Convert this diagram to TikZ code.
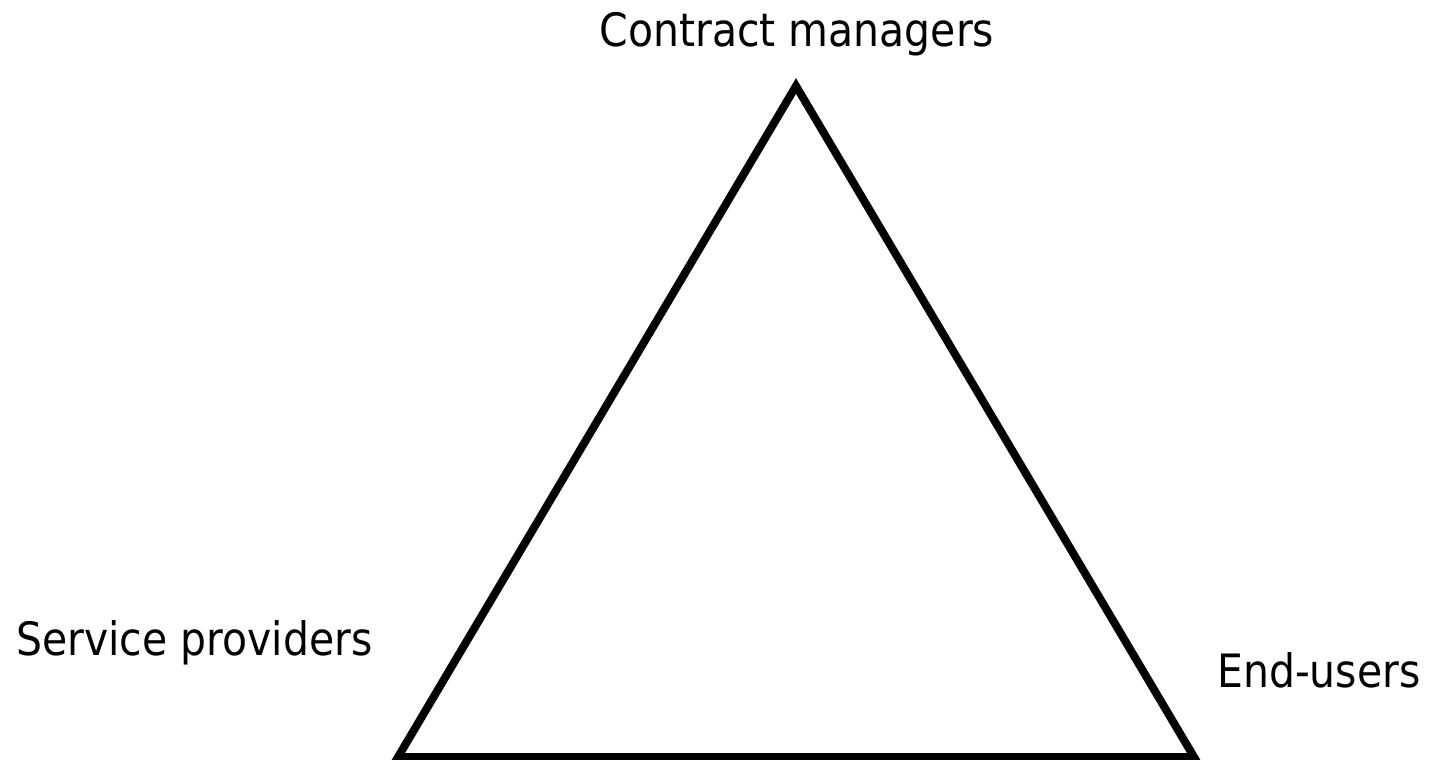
\documentclass[tikz,border=0pt]{standalone}
\usepackage{fontspec}
\setmainfont[FakeStretch=0.89]{DejaVu Sans}
\begin{document}
\begin{tikzpicture}[x=1pt,y=-1pt,
  lbl/.style={inner sep=0pt,font=\fontsize{46}{50}\selectfont},
  edge/.style={line width=8pt,line join=miter}]
\useasboundingbox (0,0) rectangle (1435,760);
\coordinate (top) at (796,86);
\coordinate (bl) at (398,757);
\coordinate (br) at (1194,757);
\draw[edge] (top) -- (bl) -- (br) -- cycle;
\node[lbl,anchor=base] (cm) at (797,47) {Contract managers};
\node[lbl,anchor=base west] (sp) at (16,655) {Service providers};
\node[lbl,anchor=base west] (eu) at (1217,687) {End-users};
\end{tikzpicture}
\end{document}
